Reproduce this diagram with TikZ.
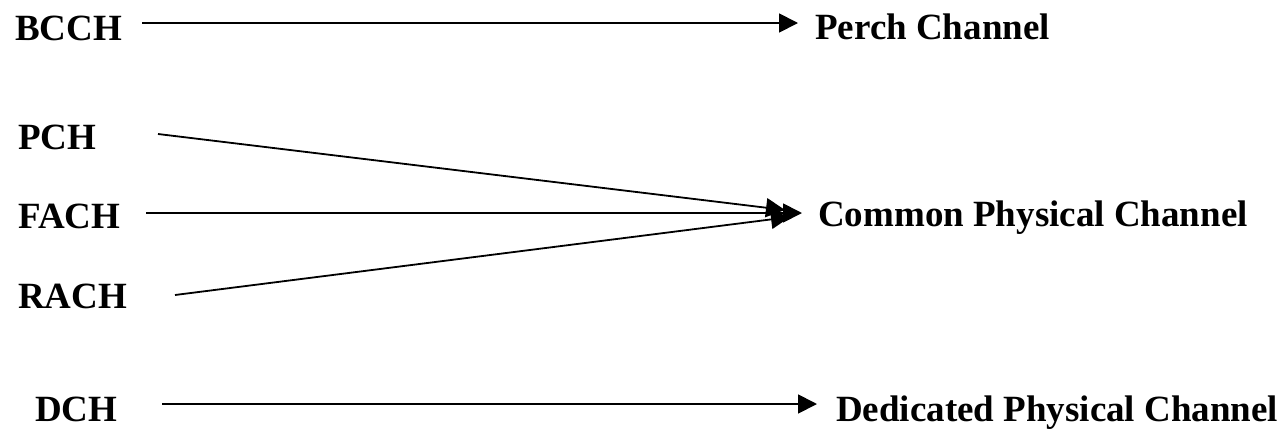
\documentclass[tikz,border=0pt]{standalone}
\usepackage{fontspec}
\setmainfont{Liberation Serif}
\usetikzlibrary{arrows.meta}
\begin{document}
\begin{tikzpicture}[x=1pt,y=-1pt,
  lbl/.style={anchor=base west,inner sep=0pt,font=\fontsize{37}{44}\selectfont\bfseries},
  conn/.style={line width=1.8pt,-{Triangle[length=19pt,width=19pt]}}]
\useasboundingbox (0,0) rectangle (1285,429);
% labels
\node[lbl] (bcch) at (15,40) {BCCH};
\node[lbl] (pch) at (18,149) {PCH};
\node[lbl] (fach) at (18,228) {FACH};
\node[lbl] (rach) at (18,308) {RACH};
\node[lbl] (dch) at (35,421) {DCH};
\node[lbl] (perch) at (815,39) {Perch Channel};
\node[lbl] (common) at (818,226) {Common Physical Channel};
\node[lbl] (dedic) at (836,421) {Dedicated Physical Channel};
% connector ends
\coordinate (bcchS) at (142,23);
\coordinate (bcchT) at (798,23);
\coordinate (pchS) at (158,134);
\coordinate (pchT) at (785,210);
\coordinate (fachS) at (146,213);
\coordinate (fachT) at (802,213);
\coordinate (rachS) at (175,295);
\coordinate (rachT) at (790,217);
\coordinate (dchS) at (162,404);
\coordinate (dchT) at (817,404);
\draw[conn] (bcchS) -- (bcchT);
\draw[conn] (pchS) -- (pchT);
\draw[conn] (fachS) -- (fachT);
\draw[conn] (rachS) -- (rachT);
\draw[conn] (dchS) -- (dchT);
\end{tikzpicture}
\end{document}
